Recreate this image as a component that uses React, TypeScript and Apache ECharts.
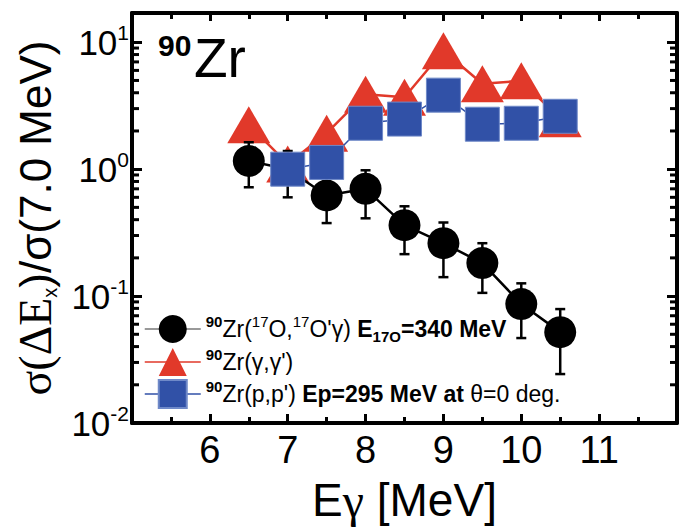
import React, { useEffect, useRef } from "react";
import * as echarts from "echarts";

// Gamma energy bins [MeV]
const energies = [6.5, 7, 7.5, 8, 8.5, 9, 9.5, 10, 10.5];
// 90Zr(17O,17O'γ) at E17O = 340 MeV, ratio to the 7.0 MeV bin, with error bar limits
const oxygenRatio = [1.16, 1.0, 0.62, 0.7, 0.362, 0.261, 0.182, 0.0865, 0.052];
const oxygenLow = [0.72, 0.6, 0.376, 0.41, 0.214, 0.141, 0.106, 0.0467, 0.0243];
const oxygenHigh = [1.63, 1.39, 0.9, 0.98, 0.51, 0.38, 0.261, 0.126, 0.079];
// 90Zr(γ,γ')
const gammaRatio = [2.24, 1.1, 1.92, 3.9, 3.69, 8.57, 4.71, 4.97, 2.5];
// 90Zr(p,p') at Ep = 295 MeV, θ = 0 deg
const protonEnergies = [7, 7.5, 8, 8.5, 9, 9.5, 10, 10.5];
const protonRatio = [1.0, 1.13, 2.3, 2.48, 3.83, 2.26, 2.3, 2.61];

// axis ranges and labelled ticks
const xMin = 5;
const xMax = 12;
const xLabels = [6, 7, 8, 9, 10, 11];
const yMin = 0.01;
const yMax = 17;
const yMinorTicks = [
  0.02, 0.03, 0.04, 0.05, 0.06, 0.07, 0.08, 0.09,
  0.2, 0.3, 0.4, 0.5, 0.6, 0.7, 0.8, 0.9,
  2, 3, 4, 5, 6, 7, 8, 9,
];

const RED = "#e1392a";
const BLUE = "#3151a7";
const SANS = "Liberation Sans, Arial, sans-serif";
const SERIF = "Liberation Serif, Times New Roman, serif";

const legendRich: Record<string, string> = {
  oxygen: "{sb|90}{n|Zr(}{sr|17}{n|O,}{sr|17}{n|O'γ) }{b|E}{sub|17O}{b|=340 MeV}",
  gamma: "{sb|90}{n|Zr(γ,γ')}",
  proton: "{sb|90}{n|Zr(p,p') }{b|Ep=295 MeV at }{n|θ=0 deg.}",
};

function decadeLabel(v: number): string {
  const e = Math.log10(v);
  const r = Math.round(e);
  if (Math.abs(e - r) > 1e-6) return "";
  return `{b|10}{s|${r < 0 ? "-" + -r : r}}`;
}

export default function App() {
  const ref = useRef<HTMLDivElement>(null);

  useEffect(() => {
    if (!ref.current) return;
    const chart = echarts.init(ref.current, undefined, { renderer: "svg" });

    const axisLine = { show: true, lineStyle: { color: "#000", width: 4 } };

    const option: any = {
      animation: false,
      backgroundColor: "#fff",
      grid: { left: 132, right: 4, top: 13, bottom: 106, containLabel: false },
      legend: {
        orient: "vertical",
        left: 139,
        top: 309,
        itemWidth: 56,
        itemHeight: 35,
        itemGap: 3,
        selectedMode: false,
        data: [
          { name: "oxygen", lineStyle: { color: "#777", width: 1.5 } },
          { name: "gamma", lineStyle: { color: RED, width: 1.5 } },
          { name: "proton", lineStyle: { color: BLUE, width: 1.5 } },
        ],
        formatter: (name: string) => legendRich[name],
        textStyle: {
          color: "#000",
          rich: {
            n: { fontFamily: SANS, fontSize: 23, lineHeight: 30 },
            b: { fontFamily: SANS, fontSize: 23, fontWeight: "bold", lineHeight: 30 },
            sb: { fontFamily: SANS, fontSize: 15, fontWeight: "bold", lineHeight: 16, verticalAlign: "top" },
            sr: { fontFamily: SANS, fontSize: 15, lineHeight: 16, verticalAlign: "top" },
            sub: { fontFamily: SANS, fontSize: 15, fontWeight: "bold", lineHeight: 6, verticalAlign: "bottom" },
          },
        },
      },
      xAxis: [
        {
          type: "value",
          position: "bottom",
          min: xMin,
          max: xMax,
          interval: 1,
          axisLine,
          axisTick: { show: true, inside: true, length: 9, lineStyle: { color: "#000", width: 3 } },
          minorTick: { show: true, splitNumber: 2, length: 6, lineStyle: { color: "#000", width: 3 } },
          splitLine: { show: false },
          axisLabel: {
            color: "#000",
            fontFamily: SANS,
            fontSize: 38,
            margin: 8,
            formatter: (v: number) => (xLabels.includes(v) ? String(v) : ""),
          },
          name: "{a|E}{g|γ}{a| [MeV]}",
          nameLocation: "middle",
          nameGap: 52,
          nameTextStyle: {
            rich: {
              a: { color: "#000", fontFamily: SANS, fontSize: 46, lineHeight: 50 },
              g: { color: "#000", fontFamily: SERIF, fontSize: 48, lineHeight: 50 },
            },
          },
        },
        {
          type: "value",
          position: "top",
          min: xMin,
          max: xMax,
          interval: 1,
          axisLine,
          axisTick: { show: true, inside: true, length: 8, lineStyle: { color: "#000", width: 3 } },
          minorTick: { show: true, splitNumber: 2, length: 6, lineStyle: { color: "#000", width: 3 } },
          splitLine: { show: false },
          axisLabel: { show: false },
        },
      ],
      yAxis: [
        {
          type: "log",
          logBase: 10,
          position: "left",
          min: yMin,
          max: yMax,
          axisLine,
          axisTick: { show: true, inside: true, length: 10, lineStyle: { color: "#000", width: 3 } },
          splitLine: { show: false },
          axisLabel: {
            margin: 3,
            showMaxLabel: false,
            formatter: (v: number) => decadeLabel(v),
            rich: {
              b: { fontFamily: SANS, fontSize: 35, color: "#000", lineHeight: 40 },
              s: { fontFamily: SANS, fontSize: 21, color: "#000", lineHeight: 26, verticalAlign: "top" },
            },
          },
          name: "{s|σ(ΔE}{x|x}{n|)/σ(7.0 MeV)}",
          nameLocation: "middle",
          nameRotate: 90,
          nameGap: 72,
          nameTextStyle: {
            rich: {
              s: { fontFamily: SERIF, fontSize: 46, color: "#000", lineHeight: 50 },
              x: { fontFamily: SANS, fontSize: 20, color: "#000", lineHeight: 14, verticalAlign: "bottom" },
              n: { fontFamily: SANS, fontSize: 44, color: "#000", lineHeight: 50 },
            },
          },
        },
        {
          type: "log",
          logBase: 10,
          position: "right",
          min: yMin,
          max: yMax,
          axisLine,
          axisTick: { show: true, inside: true, length: 10, lineStyle: { color: "#000", width: 3 } },
          splitLine: { show: false },
          axisLabel: { show: false },
        },
      ],
      graphic: [
        {
          type: "text",
          left: 158,
          top: 30,
          style: { text: "90", font: `bold 30px ${SANS}`, fill: "#000" },
        },
        {
          type: "text",
          left: 194,
          top: 30,
          style: { text: "Zr", font: `55px ${SANS}`, fill: "#000" },
        },
      ],
      series: [
        {
          name: "gamma",
          type: "line",
          z: 2,
          data: energies.map((e, i) => [e, gammaRatio[i]]),
          symbol: "triangle",
          symbolSize: [43, 37],
          itemStyle: { color: RED },
          lineStyle: { color: RED, width: 2.5 },
        },
        {
          name: "oxygenErr",
          type: "custom",
          z: 3,
          silent: true,
          encode: { x: 0, y: [1, 2] },
          data: energies.map((e, i) => [e, oxygenLow[i], oxygenHigh[i]]),
          renderItem: (_p: any, api: any) => {
            const x = api.value(0);
            const top = api.coord([x, api.value(2)]);
            const bot = api.coord([x, api.value(1)]);
            const st = { stroke: "#000", lineWidth: 2.5 };
            return {
              type: "group",
              children: [
                { type: "line", shape: { x1: top[0], y1: top[1], x2: bot[0], y2: bot[1] }, style: st },
                { type: "line", shape: { x1: top[0] - 5, y1: top[1], x2: top[0] + 5, y2: top[1] }, style: st },
                { type: "line", shape: { x1: bot[0] - 5, y1: bot[1], x2: bot[0] + 5, y2: bot[1] }, style: st },
              ],
            };
          },
        },
        {
          name: "oxygen",
          type: "line",
          z: 4,
          data: energies.map((e, i) => [e, oxygenRatio[i]]),
          symbol: "circle",
          symbolSize: 32,
          itemStyle: { color: "#000" },
          lineStyle: { color: "#000", width: 2.5 },
        },
        {
          name: "proton",
          type: "line",
          z: 5,
          data: protonEnergies.map((e, i) => [e, protonRatio[i]]),
          symbol: "rect",
          symbolSize: 34,
          itemStyle: { color: BLUE, borderColor: "#6f89c8", borderWidth: 1 },
          lineStyle: { color: BLUE, width: 1.5 },
        },
        {
          name: "yMinor",
          type: "custom",
          z: 10,
          silent: true,
          encode: { x: 0, y: 1 },
          data: yMinorTicks.map((v) => [xMin, v]),
          renderItem: (params: any, api: any) => {
            const cs = params.coordSys;
            const y = api.coord([xMin, api.value(1)])[1];
            const st = { stroke: "#000", lineWidth: 3 };
            return {
              type: "group",
              children: [
                { type: "line", shape: { x1: cs.x, y1: y, x2: cs.x + 7, y2: y }, style: st },
                { type: "line", shape: { x1: cs.x + cs.width, y1: y, x2: cs.x + cs.width - 7, y2: y }, style: st },
              ],
            };
          },
        },
      ],
    };

    chart.setOption(option);
    return () => chart.dispose();
  }, []);

  return (
    <div
      ref={ref}
      style={{ position: "absolute", left: 0, top: 0, width: 681, height: 529, background: "#fff" }}
    />
  );
}
